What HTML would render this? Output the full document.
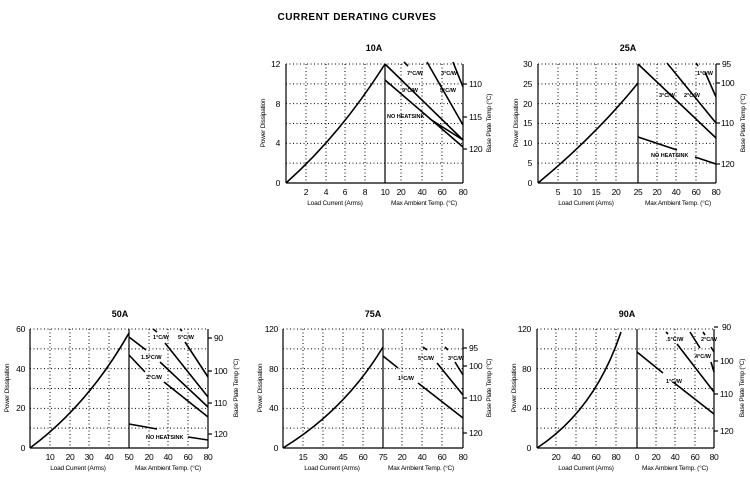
<!DOCTYPE html>
<html><head><meta charset="utf-8"><style>
body{margin:0;background:#fff}
svg{display:block}
text{font-family:"Liberation Sans",sans-serif;fill:#000}
.t{font-size:9px;font-weight:bold}
.n{font-size:8.5px;letter-spacing:-0.3px}
.a{font-size:6.5px;letter-spacing:-0.2px}
.l{font-size:5.5px;font-weight:bold}
</style></head><body>
<svg id="s" width="750" height="479" viewBox="0 0 750 479" xmlns="http://www.w3.org/2000/svg">
<g id="g"></g>
<text x="357" y="20" text-anchor="middle" style="font-size:10px;font-weight:bold;letter-spacing:0.5px">CURRENT DERATING CURVES</text>

<!-- 10A -->
<text class="t" x="374" y="51" text-anchor="middle">10A</text>
<g class="n" text-anchor="end"><text x="280" y="67">12</text><text x="280" y="107">8</text><text x="280" y="146">4</text><text x="280" y="186">0</text></g>
<g class="n" text-anchor="middle"><text x="306" y="195">2</text><text x="326" y="195">4</text><text x="345" y="195">6</text><text x="365" y="195">8</text><text x="385" y="195">10</text><text x="401" y="195">20</text><text x="422" y="195">40</text><text x="442" y="195">60</text><text x="463" y="195">80</text></g>
<g class="n"><text x="469" y="87">110</text><text x="469" y="120">115</text><text x="469" y="152">120</text></g>
<text class="a" x="335" y="205" text-anchor="middle">Load Current (Arms)</text>
<text class="a" x="424" y="205" text-anchor="middle">Max Ambient Temp. (°C)</text>
<text class="a" transform="translate(265,123) rotate(-90)" text-anchor="middle">Power Dissipation</text>
<text class="a" transform="translate(491,123) rotate(-90)" text-anchor="middle">Base Plate Temp (°C)</text>
<g class="l"><text x="407" y="75">7°C/W</text><text x="402" y="92">9°C/W</text><text x="441" y="75">3°C/W</text><text x="440" y="92">5°C/W</text><text x="387" y="118">NO HEATSINK</text></g>

<!-- 25A -->
<text class="t" x="628" y="51" text-anchor="middle">25A</text>
<g class="n" text-anchor="end"><text x="532" y="67">30</text><text x="532" y="87">25</text><text x="532" y="107">20</text><text x="532" y="126">15</text><text x="532" y="146">10</text><text x="532" y="166">5</text><text x="532" y="186">0</text></g>
<g class="n" text-anchor="middle"><text x="558" y="195">5</text><text x="577" y="195">10</text><text x="596" y="195">15</text><text x="616" y="195">20</text><text x="638" y="195">25</text><text x="657" y="195">20</text><text x="676" y="195">40</text><text x="696" y="195">60</text><text x="716" y="195">80</text></g>
<g class="n"><text x="722" y="67">95</text><text x="721" y="86">100</text><text x="721" y="126">110</text><text x="721" y="167">120</text></g>
<text class="a" x="586" y="205" text-anchor="middle">Load Current (Arms)</text>
<text class="a" x="678" y="205" text-anchor="middle">Max Ambient Temp. (°C)</text>
<text class="a" transform="translate(518,123) rotate(-90)" text-anchor="middle">Power Dissipation</text>
<text class="a" transform="translate(745,123) rotate(-90)" text-anchor="middle">Base Plate Temp (°C)</text>
<g class="l"><text x="659" y="97">3°C/W</text><text x="684" y="97">2°C/W</text><text x="697" y="75">1°C/W</text><text x="651" y="157">NO HEATSINK</text></g>

<!-- 50A -->
<text class="t" x="120" y="317" text-anchor="middle">50A</text>
<g class="n" text-anchor="end"><text x="25" y="332">60</text><text x="25" y="372">40</text><text x="25" y="411">20</text><text x="25" y="451">0</text></g>
<g class="n" text-anchor="middle"><text x="50" y="460">10</text><text x="70" y="460">20</text><text x="89" y="460">30</text><text x="109" y="460">40</text><text x="129" y="460">50</text><text x="149" y="460">20</text><text x="168" y="460">40</text><text x="188" y="460">60</text><text x="208" y="460">80</text></g>
<g class="n"><text x="214" y="341">90</text><text x="214" y="374">100</text><text x="214" y="406">110</text><text x="214" y="437">120</text></g>
<text class="a" x="78" y="470" text-anchor="middle">Load Current (Arms)</text>
<text class="a" x="168" y="470" text-anchor="middle">Max Ambient Temp. (°C)</text>
<text class="a" transform="translate(9,388) rotate(-90)" text-anchor="middle">Power Dissipation</text>
<text class="a" transform="translate(238,388) rotate(-90)" text-anchor="middle">Base Plate Temp (°C)</text>
<g class="l"><text x="153" y="339">1°C/W</text><text x="178" y="339">5°C/W</text><text x="141" y="359">1.5°C/W</text><text x="146" y="379">2°C/W</text><text x="146" y="439">NO HEATSINK</text></g>

<!-- 75A -->
<text class="t" x="373" y="317" text-anchor="middle">75A</text>
<g class="n" text-anchor="end"><text x="278" y="332">120</text><text x="278" y="372">80</text><text x="278" y="411">40</text><text x="278" y="451">0</text></g>
<g class="n" text-anchor="middle"><text x="303" y="460">15</text><text x="323" y="460">30</text><text x="343" y="460">45</text><text x="363" y="460">60</text><text x="383" y="460">75</text><text x="402" y="460">20</text><text x="422" y="460">40</text><text x="442" y="460">60</text><text x="463" y="460">80</text></g>
<g class="n"><text x="469" y="351">95</text><text x="469" y="369">100</text><text x="469" y="401">110</text><text x="469" y="436">120</text></g>
<text class="a" x="332" y="470" text-anchor="middle">Load Current (Arms)</text>
<text class="a" x="421" y="470" text-anchor="middle">Max Ambient Temp. (°C)</text>
<text class="a" transform="translate(262,388) rotate(-90)" text-anchor="middle">Power Dissipation</text>
<text class="a" transform="translate(491,388) rotate(-90)" text-anchor="middle">Base Plate Temp (°C)</text>
<g class="l"><text x="418" y="360">5°C/W</text><text x="448" y="360">3°C/W</text><text x="398" y="380">1°C/W</text></g>

<!-- 90A -->
<text class="t" x="627" y="317" text-anchor="middle">90A</text>
<g class="n" text-anchor="end"><text x="531" y="332">120</text><text x="531" y="372">80</text><text x="531" y="411">40</text><text x="531" y="451">0</text></g>
<g class="n" text-anchor="middle"><text x="556" y="460">20</text><text x="576" y="460">40</text><text x="596" y="460">60</text><text x="616" y="460">80</text><text x="637" y="460">0</text><text x="656" y="460">20</text><text x="675" y="460">40</text><text x="695" y="460">60</text><text x="714" y="460">80</text></g>
<g class="n"><text x="722" y="330">90</text><text x="720" y="364">100</text><text x="720" y="397">110</text><text x="720" y="434">120</text></g>
<text class="a" x="586" y="470" text-anchor="middle">Load Current (Arms)</text>
<text class="a" x="675" y="470" text-anchor="middle">Max Ambient Temp. (°C)</text>
<text class="a" transform="translate(516,388) rotate(-90)" text-anchor="middle">Power Dissipation</text>
<text class="a" transform="translate(744,388) rotate(-90)" text-anchor="middle">Base Plate Temp (°C)</text>
<g class="l"><text x="666" y="341">.5°C/W</text><text x="701" y="341">2°C/W</text><text x="695" y="358">4°C/W</text><text x="666" y="383">1°C/W</text></g>

<g fill="none" stroke="#000" stroke-width="1.6">
<path d="M286,183 Q340,135 385,64"/>
<path d="M385,64 L463,140 M385,80 L463,147 M430,119 L463,140 M427,62 L463,125 M453,62 L463,87 M404,62 L408,66"/>
<path d="M538,183 Q595,136 638,83"/>
<path d="M638,64 L716,138 M667,63 L716,123 M705,72 L716,97 M696,63 L698,66 M638,137 L677,150 M695,157 L716,164"/>
<path d="M30,448 Q88,405 129,333"/>
<path d="M129,337 L146,350 M160,362 L208,407 M129,355 L145,372 M164,382 L208,417 M153,329 L157,332 M165,343 L208,397 M180,329 L182,331 M185,342 L208,377 M129,424 L157,429 M188,437 L208,440"/>
<path d="M283,448 Q345,410 383,347"/>
<path d="M383,356 L398,368 M418,383 L463,418 M423,347 L427,350 M437,363 L463,395 M445,347 L448,350 M455,362 L463,375"/>
<path d="M537,448 Q595,410 621,332"/>
<path d="M637,352 L663,373 M673,382 L714,414 M666,332 L668,334 M677,344 L714,392 M690,332 L700,348 M711,362 L714,372 M703,332 L705,335 M711,347 L714,352"/>
</g>
</svg>
<script>
var g=document.getElementById('g'),ns='http://www.w3.org/2000/svg';
function ln(x1,y1,x2,y2,dot){var l=document.createElementNS(ns,'line');l.setAttribute('x1',x1);l.setAttribute('y1',y1);l.setAttribute('x2',x2);l.setAttribute('y2',y2);l.setAttribute('stroke','#000');l.setAttribute('stroke-width',dot?1:1.2);if(dot)l.setAttribute('stroke-dasharray','1,2.5');g.appendChild(l);}
function chart(x0,x1,y0,y1,d,vx,rt){
 for(var k=0;k<6;k++){var y=y0+(y1-y0)*k/6;ln(x0,y,x1,y,1);}
 vx.forEach(function(x){ln(x,y0,x,y1,1);});
 ln(x0,y0,x0,y1);ln(x1,y0,x1,y1);ln(x0,y1,x1,y1);ln(d,y0,d,y1);
 rt.forEach(function(y){ln(x1,y,x1+4,y);});
}
chart(286,463,64,183,385,[306,326,345,365,401,422,442],[84,117,149]);
chart(538,716,64,183,638,[558,577,596,616,657,676,696],[64,83,123,164]);
chart(30,208,329,448,129,[50,70,89,109,149,168,188],[338,371,403,434]);
chart(283,463,329,448,383,[303,323,343,363,402,422,442],[348,366,398,433]);
chart(537,714,329,448,637,[556,576,596,616,656,675,695],[327,361,394,431]);
</script>
</body></html>
